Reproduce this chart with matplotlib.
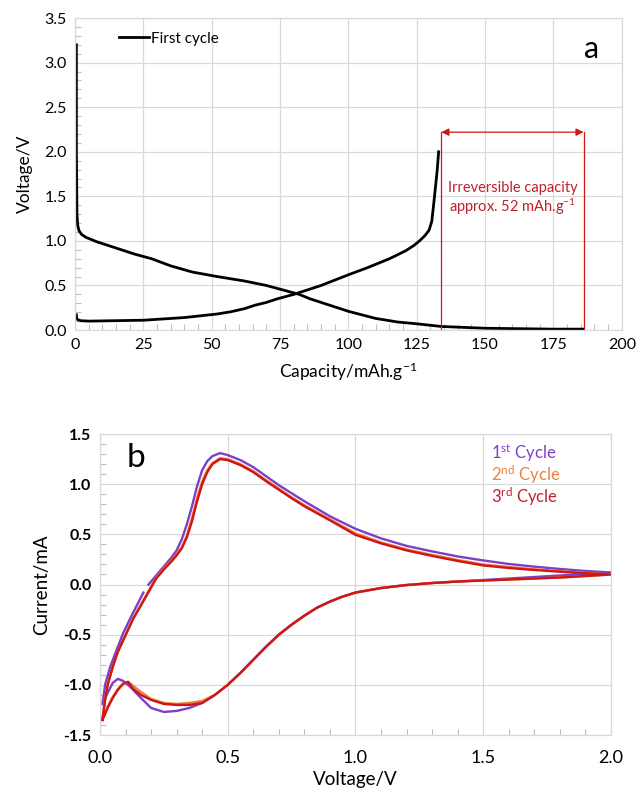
import matplotlib

matplotlib.use("Agg")
import matplotlib.pyplot as plt
from matplotlib.ticker import MultipleLocator

# ---- panel a: first galvanostatic cycle ----
cap_dis = [0.5, 0.5, 0.7, 1.0, 1.5, 2.5, 4, 8, 12, 17, 22, 28, 35, 43, 52, 62,
           70, 76, 82, 86, 90, 95, 100, 105, 110, 118, 125, 134, 150, 175, 186]
v_dis = [3.2, 2.0, 1.3, 1.17, 1.11, 1.07, 1.04, 0.99, 0.95, 0.9, 0.85, 0.8,
         0.72, 0.65, 0.6, 0.55, 0.5, 0.45, 0.4, 0.35, 0.31, 0.26, 0.21, 0.17,
         0.13, 0.09, 0.07, 0.04, 0.02, 0.01, 0.01]
cap_chg = [0.5, 0.6, 1, 2, 5, 15, 25, 40, 52, 57, 62, 66, 70, 74, 80, 85, 90,
           95, 100, 107, 115, 121, 124, 126, 128, 129.5, 130.5, 131.5, 132.5,
           133]
v_chg = [0.17, 0.13, 0.115, 0.105, 0.1, 0.105, 0.11, 0.14, 0.18, 0.205, 0.24,
         0.28, 0.31, 0.35, 0.4, 0.45, 0.5, 0.56, 0.62, 0.7, 0.8, 0.89, 0.95,
         1.0, 1.06, 1.12, 1.22, 1.5, 1.8, 2.0]
irr_start, irr_end, irr_level = 134, 186, 2.22

# ---- panel b: cyclic voltammetry, three cycles ----
v_up = [0.19, 0.22, 0.25, 0.28, 0.30, 0.32, 0.34, 0.36, 0.38, 0.40, 0.42,
        0.44, 0.47, 0.50, 0.55, 0.6, 0.65, 0.7, 0.75, 0.8, 0.9, 1.0, 1.1, 1.2,
        1.3, 1.4, 1.5, 1.6, 1.7, 1.8, 1.9, 2.0]
i_up1 = [0.0, 0.09, 0.18, 0.27, 0.34, 0.45, 0.6, 0.78, 0.98, 1.14, 1.23,
         1.28, 1.31, 1.29, 1.24, 1.17, 1.08, 0.99, 0.91, 0.83, 0.68, 0.555,
         0.46, 0.385, 0.33, 0.28, 0.24, 0.205, 0.178, 0.155, 0.135, 0.12]

v_down = [2.0, 1.9, 1.8, 1.7, 1.6, 1.5, 1.4, 1.3, 1.2, 1.1, 1.0, 0.95, 0.9,
          0.85, 0.8, 0.75, 0.7, 0.65, 0.6, 0.55, 0.5, 0.45, 0.4, 0.35, 0.3,
          0.25, 0.2, 0.16, 0.13, 0.11, 0.09, 0.07, 0.05, 0.03, 0.01]
i_down1 = [0.12, 0.105, 0.09, 0.075, 0.06, 0.045, 0.03, 0.015, -0.005, -0.035,
           -0.08, -0.12, -0.17, -0.23, -0.31, -0.40, -0.5, -0.62, -0.75,
           -0.88, -1.0, -1.1, -1.18, -1.23, -1.26, -1.27, -1.23, -1.13, -1.05,
           -1.0, -0.96, -0.94, -0.98, -1.08, -1.19]
v_close1 = [0.01, 0.02, 0.04, 0.07, 0.09, 0.12, 0.14, 0.17]
i_close1 = [-1.19, -1.0, -0.82, -0.62, -0.49, -0.33, -0.23, -0.08]

v_start = [0.01, 0.02, 0.03, 0.05, 0.07, 0.09, 0.11, 0.13, 0.16]
v_up23 = v_start + v_up[1:]
i_up2 = [-1.33, -1.14, -1.0, -0.82, -0.67, -0.56, -0.45, -0.34, -0.2,
         0.07, 0.16, 0.24, 0.30, 0.37, 0.49, 0.66, 0.86, 1.03, 1.14, 1.21,
         1.26, 1.25, 1.2, 1.13, 1.04, 0.955, 0.87, 0.79, 0.65, 0.51, 0.42,
         0.35, 0.295, 0.245, 0.2, 0.175, 0.152, 0.133, 0.115, 0.1]
i_up3 = [-1.35, -1.15, -1.0, -0.82, -0.67, -0.56, -0.45, -0.34, -0.21,
         0.06, 0.15, 0.23, 0.29, 0.36, 0.47, 0.63, 0.83, 1.0, 1.12, 1.2,
         1.25, 1.24, 1.19, 1.12, 1.03, 0.945, 0.86, 0.78, 0.64, 0.495, 0.41,
         0.34, 0.285, 0.235, 0.19, 0.165, 0.145, 0.128, 0.112, 0.1]
i_down2 = [0.1, 0.085, 0.07, 0.06, 0.05, 0.04, 0.03, 0.015, -0.005, -0.035,
           -0.08, -0.12, -0.17, -0.23, -0.31, -0.40, -0.5, -0.62, -0.75,
           -0.88, -1.0, -1.1, -1.16, -1.18, -1.19, -1.18, -1.14, -1.07,
           -1.01, -0.97, -0.99, -1.04, -1.12, -1.22, -1.33]
i_down3 = [0.1, 0.085, 0.07, 0.06, 0.05, 0.04, 0.03, 0.015, -0.005, -0.035,
           -0.08, -0.12, -0.17, -0.23, -0.31, -0.40, -0.5, -0.62, -0.75,
           -0.88, -1.0, -1.1, -1.18, -1.2, -1.2, -1.19, -1.15, -1.1, -1.04,
           -0.97, -0.99, -1.05, -1.13, -1.23, -1.35]

PURPLE = "#7b3fc8"
ORANGE = "#ee8040"
RED = "#d01515"
RED_TXT = "#c0202c"
GRID = "#d9d9d9"

plt.rcParams.update({
    "font.family": ["Lato", "DejaVu Sans"],
    "mathtext.fontset": "custom",
    "mathtext.rm": "Lato",
    "mathtext.it": "Lato:italic",
    "mathtext.bf": "Lato:bold",
    "font.size": 11,
})

fig = plt.figure(figsize=(6.38, 7.89), dpi=100)


def style_axes(ax):
    ax.grid(True, which="major", color=GRID, linewidth=0.9)
    ax.set_axisbelow(True)
    for s in ax.spines.values():
        s.set_color(GRID)
        s.set_linewidth(0.9)
    ax.tick_params(which="major", length=0, pad=6, labelsize=11.5)
    ax.tick_params(which="minor", direction="in", length=4, color="#bfbfbf",
                   width=0.8, top=False, right=False)


# panel a
ax1 = fig.add_axes([0.1176, 0.5817, 0.857, 0.3954])
ax1.plot(cap_dis, v_dis, color="black", lw=2, label="First cycle",
         solid_joinstyle="round")
ax1.plot(cap_chg, v_chg, color="black", lw=2, solid_joinstyle="round")
ax1.set_xlim(0, 200)
ax1.set_ylim(0, 3.5)
ax1.xaxis.set_major_locator(MultipleLocator(25))
ax1.xaxis.set_minor_locator(MultipleLocator(5))
ax1.yaxis.set_major_locator(MultipleLocator(0.5))
ax1.yaxis.set_minor_locator(MultipleLocator(0.1))
ax1.yaxis.set_major_formatter(lambda v, p: f"{v:.1f}")
style_axes(ax1)
ax1.set_xlabel("Capacity/mAh.g$^{-1}$", fontsize=12.5, labelpad=6)
ax1.set_ylabel("Voltage/V", fontsize=12.5, labelpad=8)
ax1.legend(loc="upper left", bbox_to_anchor=(0.055, 1.0), frameon=False,
           handlelength=2.0, handletextpad=0.1, fontsize=11)
ax1.text(0.945, 0.9, "a", transform=ax1.transAxes, fontsize=22,
         ha="center", va="center")

ax1.plot([irr_start, irr_start], [0, irr_level], color=RED, lw=0.9)
ax1.plot([irr_end, irr_end], [0, irr_level], color=RED, lw=0.9)
ax1.annotate("", xy=(irr_start, irr_level), xytext=(irr_end, irr_level),
             arrowprops=dict(arrowstyle="<|-|>", color=RED, lw=0.9,
                             mutation_scale=11, shrinkA=0, shrinkB=0))
ax1.text((irr_start + irr_end) / 2, 1.59, "Irreversible capacity",
         color=RED_TXT, fontsize=10.5, ha="center", va="center")
ax1.text((irr_start + irr_end) / 2, 1.38, "approx. 52 mAh.g$^{-1}$",
         color=RED_TXT, fontsize=10.5, ha="center", va="center")

# panel b
ax2 = fig.add_axes([0.1567, 0.0684, 0.801, 0.3815])
ax2.plot(v_up + v_down + v_close1, i_up1 + i_down1 + i_close1,
         color=PURPLE, lw=1.7, solid_joinstyle="round")
ax2.plot(v_up23 + v_down, i_up2 + i_down2, color=ORANGE, lw=1.7,
         solid_joinstyle="round")
ax2.plot(v_up23 + v_down, i_up3 + i_down3, color=RED, lw=1.7,
         solid_joinstyle="round")
ax2.set_xlim(0, 2.0)
ax2.set_ylim(-1.5, 1.5)
ax2.xaxis.set_major_locator(MultipleLocator(0.5))
ax2.xaxis.set_minor_locator(MultipleLocator(0.1))
ax2.yaxis.set_major_locator(MultipleLocator(0.5))
ax2.yaxis.set_minor_locator(MultipleLocator(0.1))
ax2.xaxis.set_major_formatter(lambda v, p: f"{v:.1f}")
ax2.yaxis.set_major_formatter(lambda v, p: f"{v:.1f}")
style_axes(ax2)
ax2.tick_params(axis="x", labelsize=13, pad=11)
for t in ax2.get_yticklabels():
    t.set_fontweight("bold")
ax2.set_xlabel("Voltage/V", fontsize=13.5)
ax2.xaxis.set_label_coords(0.5, -0.118)
ax2.set_ylabel("Current/mA", fontsize=13.5, labelpad=10)
ax2.text(0.07, 0.92, "b", transform=ax2.transAxes, fontsize=24,
         ha="center", va="center")
for k, (lab, col) in enumerate([("1$^{\\mathrm{st}}$ Cycle", PURPLE),
                                ("2$^{\\mathrm{nd}}$ Cycle", ORANGE),
                                ("3$^{\\mathrm{rd}}$ Cycle", RED_TXT)]):
    ax2.text(0.765, 0.935 - k * 0.072, lab, transform=ax2.transAxes,
             color=col, fontsize=12, ha="left", va="center")

fig.savefig("out.png", dpi=100)
